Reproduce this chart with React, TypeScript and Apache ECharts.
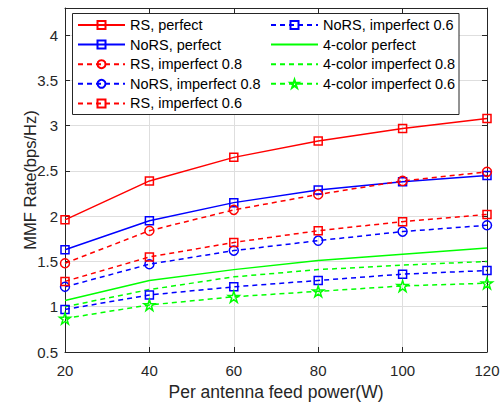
import React, { useEffect, useRef } from "react";
import * as echarts from "echarts";

const xValues = [20, 40, 60, 80, 100, 120];
const rsPerfect = [1.96, 2.39, 2.65, 2.83, 2.97, 3.08];
const norsPerfect = [1.63, 1.95, 2.15, 2.29, 2.38, 2.45];
const rsImp08 = [1.48, 1.84, 2.07, 2.24, 2.39, 2.49];
const norsImp08 = [1.22, 1.47, 1.62, 1.73, 1.83, 1.9];
const rsImp06 = [1.28, 1.55, 1.71, 1.84, 1.94, 2.02];
const norsImp06 = [0.97, 1.13, 1.22, 1.29, 1.36, 1.4];
const color4Perfect = [1.07, 1.29, 1.41, 1.51, 1.58, 1.65];
const color4Imp08 = [1.0, 1.19, 1.33, 1.41, 1.46, 1.5];
const color4Imp06 = [0.87, 1.02, 1.11, 1.17, 1.23, 1.26];

const seriesNames = [
  "RS, perfect",
  "NoRS, perfect",
  "RS, imperfect 0.8",
  "NoRS, imperfect 0.8",
  "RS, imperfect 0.6",
  "NoRS, imperfect 0.6",
  "4-color perfect",
  "4-color imperfect 0.8",
  "4-color imperfect 0.6",
];
const noMarkerNames = ["4-color perfect", "4-color imperfect 0.8"];

const STAR =
  "path://M50,0L61.23,34.55L97.55,34.55L68.17,55.9L79.39,90.45L50,69.1L20.61,90.45L31.83,55.9L2.45,34.55L38.77,34.55Z";

const RED = "#ff0000";
const BLUE = "#0000ff";
const GREEN = "#00ff00";
const AXIS = "#262626";
const FONT = "Liberation Sans, Arial, sans-serif";
const DASH = [5, 4];

function mk(name: string, vals: number[], color: string, dashed: boolean, symbol: string, size: number) {
  return {
    name,
    type: "line",
    xAxisIndex: 0,
    yAxisIndex: 0,
    data: xValues.map((x, i) => [x, vals[i]]),
    symbol,
    symbolSize: size,
    showSymbol: symbol !== "none",
    lineStyle: { color, width: 1.5, type: dashed ? DASH : "solid" },
    itemStyle: { color: "transparent", borderColor: color, borderWidth: 1.5 },
    emphasis: { disabled: true },
    z: 2,
  };
}

function legendData(names: string[]) {
  return names.map((n) =>
    noMarkerNames.includes(n)
      ? { name: n, itemStyle: { color: "transparent", borderColor: "transparent", borderWidth: 0 } }
      : { name: n }
  );
}

export default function App() {
  const ref = useRef<HTMLDivElement>(null);
  useEffect(() => {
    if (!ref.current) return;
    const chart = echarts.init(ref.current, null, { renderer: "svg" });
    const legendCommon = {
      orient: "vertical",
      top: 17,
      padding: 0,
      itemGap: 3.6,
      itemWidth: 47,
      itemHeight: 10,
      selectedMode: false,
      textStyle: { fontFamily: FONT, fontSize: 14.5, color: "#000", lineHeight: 16 },
      z: 5,
    };
    chart.setOption({
      animation: false,
      backgroundColor: "#fff",
      grid: { left: 65, right: 16, top: 8, bottom: 51, containLabel: false, outerBoundsMode: "none" },
      legend: [
        { ...legendCommon, left: 77, data: legendData(seriesNames.slice(0, 5)) },
        { ...legendCommon, left: 270, data: legendData(seriesNames.slice(5)) },
      ],
      graphic: [
        {
          type: "rect",
          z: 4,
          shape: { x: 72.5, y: 13.5, width: 386.5, height: 101 },
          style: { fill: "#fff", stroke: AXIS, lineWidth: 1 },
        },
      ],
      xAxis: [
        {
          type: "value",
          min: 20,
          max: 120,
          interval: 20,
          position: "bottom",
          name: "Per antenna feed power(W)",
          nameLocation: "middle",
          nameGap: 31,
          nameMoveOverlap: false,
          nameTextStyle: { fontFamily: FONT, fontSize: 17.5, color: AXIS, lineHeight: 18 },
          axisLine: { show: true, lineStyle: { color: AXIS, width: 1 } },
          axisTick: { show: true, inside: true, length: 5, lineStyle: { color: AXIS } },
          axisLabel: { fontFamily: FONT, fontSize: 15, color: AXIS, margin: 11 },
          splitLine: { show: true, lineStyle: { color: "#dedede", width: 1 } },
        },
        {
          type: "value",
          min: 20,
          max: 120,
          interval: 20,
          position: "top",
          axisLine: { show: true, lineStyle: { color: AXIS, width: 1 } },
          axisTick: { show: true, inside: true, length: 5, lineStyle: { color: AXIS } },
          axisLabel: { show: false },
          splitLine: { show: false },
        },
      ],
      yAxis: [
        {
          type: "value",
          min: 0.5,
          max: 4.3,
          interval: 0.5,
          position: "left",
          name: "MMF Rate(bps/Hz)",
          nameLocation: "middle",
          nameGap: 27,
          nameMoveOverlap: false,
          nameTextStyle: { fontFamily: FONT, fontSize: 16.5, color: AXIS },
          axisLine: { show: true, lineStyle: { color: AXIS, width: 1 } },
          axisTick: { show: true, inside: true, length: 5, lineStyle: { color: AXIS } },
          axisLabel: { fontFamily: FONT, fontSize: 15, color: AXIS, margin: 7, showMaxLabel: false },
          splitLine: { show: true, lineStyle: { color: "#dedede", width: 1 } },
        },
        {
          type: "value",
          min: 0.5,
          max: 4.3,
          interval: 0.5,
          position: "right",
          axisLine: { show: true, lineStyle: { color: AXIS, width: 1 } },
          axisTick: { show: true, inside: true, length: 5, lineStyle: { color: AXIS } },
          axisLabel: { show: false },
          splitLine: { show: false },
        },
      ],
      series: [
        mk(seriesNames[0], rsPerfect, RED, false, "rect", 8),
        mk(seriesNames[1], norsPerfect, BLUE, false, "rect", 8),
        mk(seriesNames[2], rsImp08, RED, true, "circle", 9),
        mk(seriesNames[3], norsImp08, BLUE, true, "circle", 9),
        mk(seriesNames[4], rsImp06, RED, true, "rect", 8),
        mk(seriesNames[5], norsImp06, BLUE, true, "rect", 8),
        mk(seriesNames[6], color4Perfect, GREEN, false, "none", 0),
        mk(seriesNames[7], color4Imp08, GREEN, true, "none", 0),
        mk(seriesNames[8], color4Imp06, GREEN, true, STAR, 11),
      ],
    });
    return () => chart.dispose();
  }, []);
  return (
    <div
      ref={ref}
      style={{ position: "absolute", left: 0, top: 0, width: 503, height: 403 }}
    />
  );
}
